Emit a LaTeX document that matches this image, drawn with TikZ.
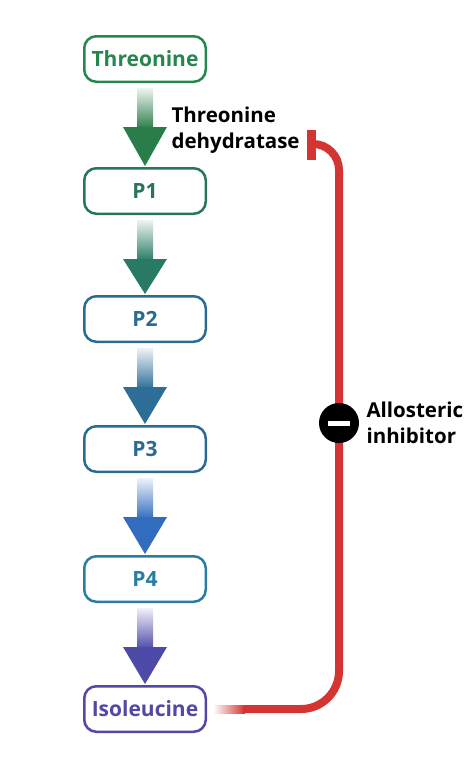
\documentclass[tikz,border=0pt]{standalone}
\usepackage{fontspec}
\setmainfont{Open Sans}
\usetikzlibrary{calc}
\definecolor{thrgreen}{RGB}{38,135,78}
\definecolor{pgreen}{RGB}{40,118,90}
\definecolor{pblue}{RGB}{42,108,145}
\definecolor{pteal}{RGB}{40,125,160}
\definecolor{ilepurple}{RGB}{82,72,165}
\definecolor{arrgreen}{RGB}{40,125,72}
\definecolor{arrteal}{RGB}{40,122,100}
\definecolor{arrblue}{RGB}{44,110,152}
\definecolor{arrbright}{RGB}{50,108,190}
\definecolor{arrviolet}{RGB}{78,74,168}
\definecolor{inhred}{RGB}{212,52,50}

\tikzset{
  metabolite/.style={draw=#1, text=#1, line width=2.5pt, rounded corners=12pt,
    minimum width=121.5pt, minimum height=45.5pt, inner sep=0pt,
    font=\bfseries\fontsize{21}{24}\selectfont},
  inhibit/.style={draw=inhred, line width=8pt},
  label/.style={font=\bfseries\fontsize{20.5}{26}\selectfont, align=left, anchor=west},
}

% block arrow from one box down to the next
\newcommand{\blockarrow}[3]{%
  \shade[top color=#3!8, bottom color=#3] ($(#1.south)+(-8,5)$) rectangle ($(#1.south)+(8,46)$);
  \fill[#3] ($(#1.south)+(-22,44)$) -- ($(#1.south)+(22,44)$) -- ($(#2.north)+(0,-1)$) -- cycle;
}

\begin{document}
\begin{tikzpicture}[x=1pt,y=-1pt]
  \useasboundingbox (0,0) rectangle (470,782);

  % Pathway
  \node[metabolite=thrgreen] (thr) at (145,59) {Threonine};
  \node[metabolite=pgreen] (p1) at (145,191) {P1};
  \node[metabolite=pblue] (p2) at (145,319) {P2};
  \node[metabolite=pblue] (p3) at (145,449) {P3};
  \node[metabolite=pteal] (p4) at (145,579) {P4};
  \node[metabolite=ilepurple] (ile) at (145,709) {Isoleucine};

  \blockarrow{thr}{p1}{arrgreen}
  \blockarrow{p1}{p2}{arrteal}
  \blockarrow{p2}{p3}{arrblue}
  \blockarrow{p3}{p4}{arrbright}
  \blockarrow{p4}{ile}{arrviolet}

  % Enzyme
  \node[label] (enzyme) at (168,130) {Threonine\\dehydratase};

  % Feedback line
  \coordinate (tbar) at (311,144);
  \shade[left color=white, right color=inhred] ($(ile.east)+(6,-4)$) rectangle ($(ile.east)+(38,4)$);
  \draw[inhibit] ($(ile.east)+(36,0)$) [rounded corners=38pt] -- (339,709)
    [rounded corners=26pt] -- (339,144) -- (tbar);
  \draw[inhibit, line width=9pt] ($(tbar)+(0,-14)$) -- ($(tbar)+(0,16)$);

  % Allosteric inhibitor
  \node[circle, fill=black, minimum size=40pt, inner sep=0pt] (minus) at (339,423) {};
  \fill[white] ($(minus.center)+(-11,-2.5)$) rectangle ($(minus.center)+(11,2.5)$);
  \node[label] (allo) at (363,423) {Allosteric\\inhibitor};
\end{tikzpicture}
\end{document}
